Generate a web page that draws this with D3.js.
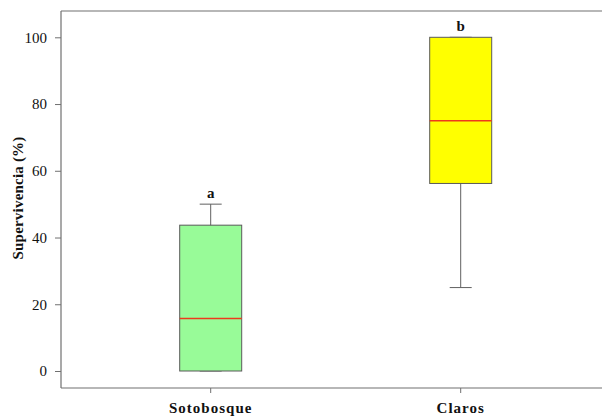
<!DOCTYPE html>
<html>
<head>
<meta charset="utf-8">
<script src="https://cdn.jsdelivr.net/npm/d3@7"></script>
<style>
  html, body { margin: 0; padding: 0; background: #fff; }
  svg { display: block; }
</style>
</head>
<body>
<svg id="chart" width="602" height="418"></svg>
<script>
// Survival (%) box plot summaries per habitat
const categories = ["Sotobosque", "Claros"];
const whiskerLow = [0, 25];
const q1 = [0, 56.2];
const median = [15.7, 75];
const q3 = [43.7, 100];
const whiskerHigh = [50, 100];
const groupLetters = ["a", "b"];
const boxColors = ["#98fb98", "#ffff00"];
const yTicks = [0, 20, 40, 60, 80, 100];

const svg = d3.select("#chart");
const plotLeft = 61, plotTop = 11, plotBottom = 388, plotRight = 602;
const serif = "'Liberation Serif', 'Times New Roman', serif";
const axisColor = "#707070";

const y = d3.scaleLinear().domain([0, 100]).range([371, 37.3]);
const x = d3.scaleBand().domain(categories).range([85.7, 585.7]);
const boxW = 62;

// frame: left, top and bottom lines
svg.append("line").attr("x1", plotLeft).attr("x2", plotLeft).attr("y1", plotTop).attr("y2", plotBottom)
  .attr("stroke", axisColor).attr("stroke-width", 1.2);
svg.append("line").attr("x1", plotLeft).attr("x2", plotRight).attr("y1", plotTop).attr("y2", plotTop)
  .attr("stroke", axisColor).attr("stroke-width", 1.2);
svg.append("line").attr("x1", plotLeft).attr("x2", plotRight).attr("y1", plotBottom).attr("y2", plotBottom)
  .attr("stroke", axisColor).attr("stroke-width", 1.2);

// y axis
const yAxis = d3.axisLeft(y).tickValues(yTicks).tickSize(6).tickPadding(8);
const gy = svg.append("g").attr("transform", `translate(${plotLeft},0)`).call(yAxis);
gy.select(".domain").remove();
gy.selectAll(".tick line").attr("stroke", axisColor);
gy.selectAll(".tick text").attr("font-family", serif).attr("font-size", 15).attr("fill", "#111");

// x axis
const xAxis = d3.axisBottom(x).tickSize(5).tickPadding(0);
const gx = svg.append("g").attr("transform", `translate(0,${plotBottom})`).call(xAxis);
gx.select(".domain").remove();
gx.selectAll(".tick line").attr("stroke", axisColor);
gx.selectAll(".tick text").attr("font-family", serif).attr("font-size", 15)
  .attr("font-weight", "bold").attr("letter-spacing", "1px").attr("fill", "#111")
  .attr("y", 25).attr("dy", null);

// y axis title
svg.append("text")
  .attr("transform", "translate(23,198) rotate(-90)")
  .attr("text-anchor", "middle")
  .attr("font-family", serif).attr("font-size", 15).attr("font-weight", "bold")
  .attr("letter-spacing", "0.2px").attr("fill", "#111")
  .text("Supervivencia (%)");

// boxes
const groups = svg.append("g").selectAll("g").data(categories).join("g")
  .attr("transform", d => `translate(${x(d) + x.bandwidth() / 2},0)`);

// whiskers
groups.append("line")
  .attr("x1", 0).attr("x2", 0)
  .attr("y1", (d, i) => y(whiskerLow[i])).attr("y2", (d, i) => y(whiskerHigh[i]))
  .attr("stroke", "#606060").attr("stroke-width", 1);
groups.append("line")
  .attr("x1", -11).attr("x2", 11)
  .attr("y1", (d, i) => y(whiskerLow[i])).attr("y2", (d, i) => y(whiskerLow[i]))
  .attr("stroke", "#606060").attr("stroke-width", 1);
groups.append("line")
  .attr("x1", -11).attr("x2", 11)
  .attr("y1", (d, i) => y(whiskerHigh[i])).attr("y2", (d, i) => y(whiskerHigh[i]))
  .attr("stroke", "#606060").attr("stroke-width", 1);

groups.append("rect")
  .attr("x", -boxW / 2).attr("width", boxW)
  .attr("y", (d, i) => y(q3[i]))
  .attr("height", (d, i) => y(q1[i]) - y(q3[i]))
  .attr("fill", (d, i) => boxColors[i])
  .attr("stroke", "#5a5a5a").attr("stroke-width", 1);

groups.append("line")
  .attr("x1", -boxW / 2).attr("x2", boxW / 2)
  .attr("y1", (d, i) => y(median[i])).attr("y2", (d, i) => y(median[i]))
  .attr("stroke", "#ee3a1c").attr("stroke-width", 1.5);

// significance letters
groups.append("text")
  .attr("x", 0)
  .attr("y", (d, i) => y(whiskerHigh[i]) - 6)
  .attr("text-anchor", "middle")
  .attr("font-family", serif).attr("font-size", 15).attr("font-weight", "bold")
  .attr("fill", "#111")
  .text((d, i) => groupLetters[i]);
</script>
</body>
</html>
